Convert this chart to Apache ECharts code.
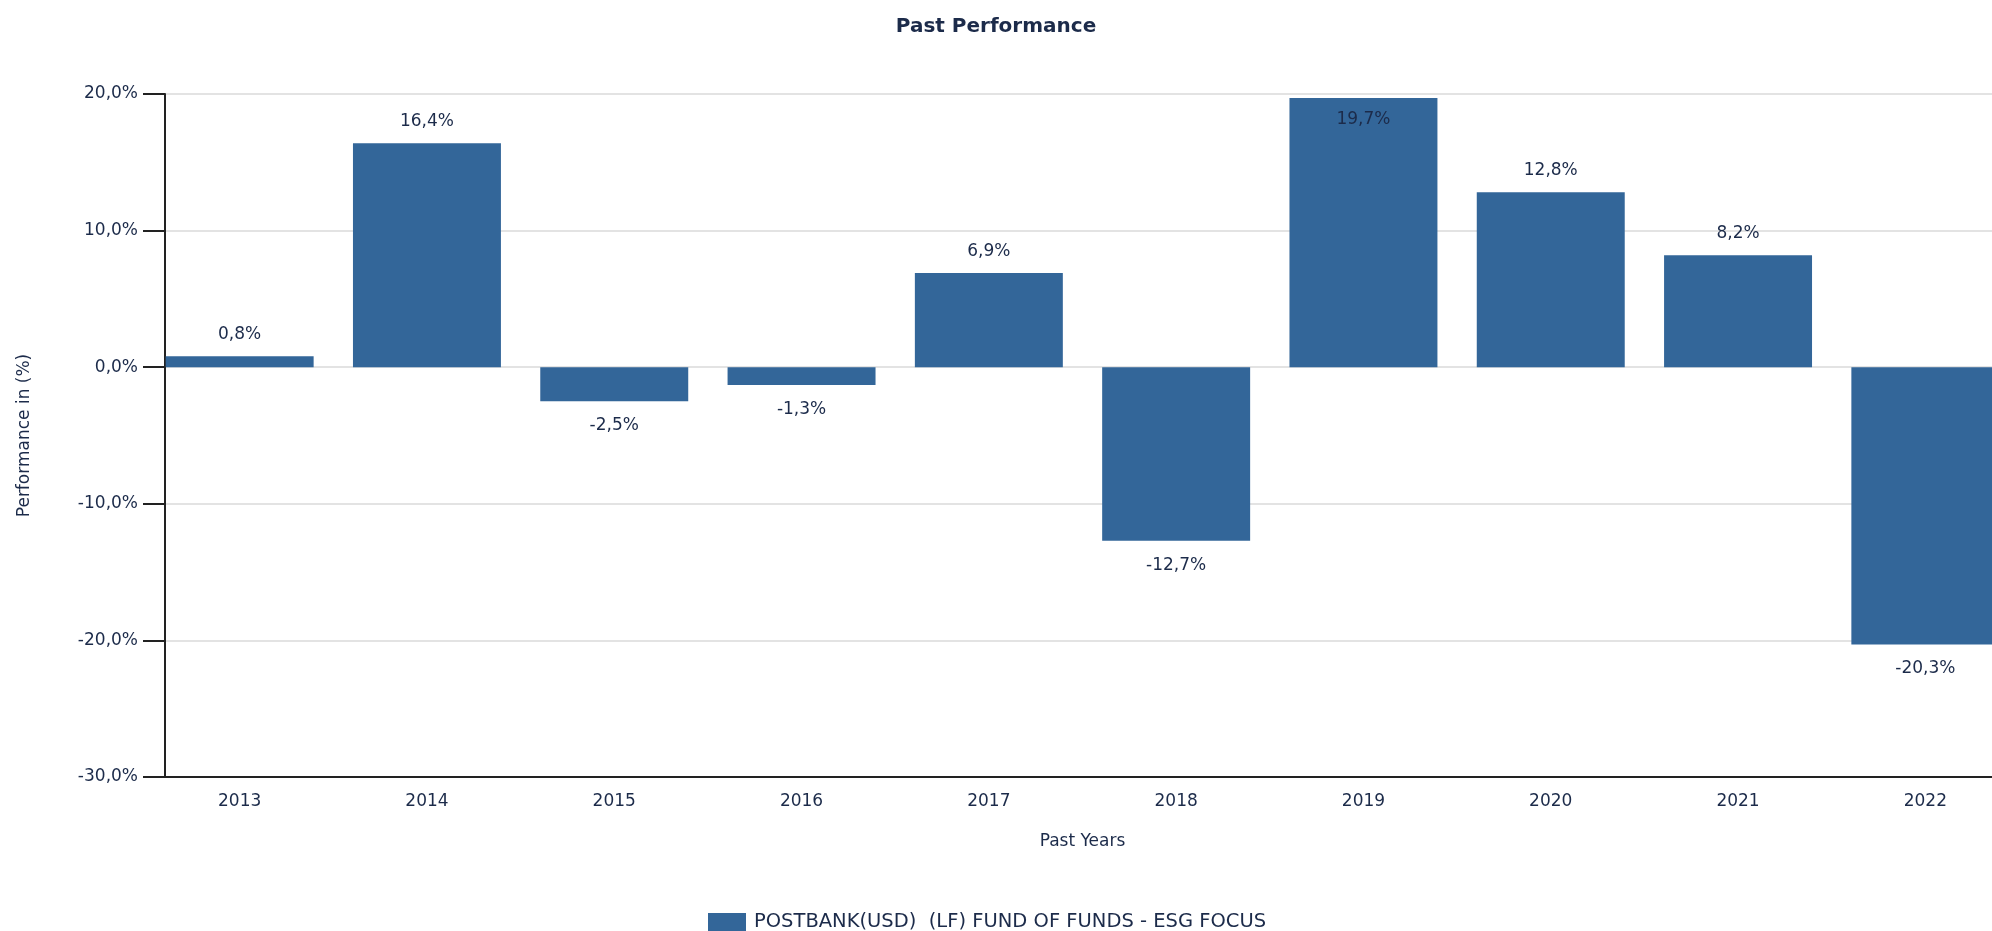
<!DOCTYPE html>
<html>
<head>
<meta charset="utf-8">
<title>Past Performance</title>
<script src="https://cdn.jsdelivr.net/npm/echarts@6/dist/echarts.min.js"></script>
<style>
  html, body { margin: 0; padding: 0; background: #fff; }
  #chart { width: 1992px; height: 931px; }
</style>
</head>
<body>
<div id="chart"></div>
<script>
// chart data
const years = ['2013', '2014', '2015', '2016', '2017', '2018', '2019', '2020', '2021', '2022'];
const performance = [0.8, 16.4, -2.5, -1.3, 6.9, -12.7, 19.7, 12.8, 8.2, -20.3];
const seriesName = 'POSTBANK(USD)  (LF) FUND OF FUNDS - ESG FOCUS';
const yMin = -30, yMax = 20, yStep = 10;

const textColor = '#1c2b4a';
const barColor = '#336699';
const fontName = '"DejaVu Sans", sans-serif';

// german style: comma as decimal mark
function pct(v) {
  return v.toFixed(1).replace('.', ',') + '%';
}

// labels go under negative bars, and inside when there is no room above
const barData = performance.map(v => ({
  value: v,
  label: v < 0
    ? { position: 'bottom', distance: 16 }
    : { position: yMax - v < 3 ? 'insideTop' : 'top' }
}));

var chart = echarts.init(document.getElementById('chart'));
chart.setOption({
  animation: false,
  backgroundColor: '#ffffff',
  textStyle: { fontFamily: fontName, color: textColor },
  title: {
    text: 'Past Performance',
    left: 'center',
    top: 12,
    textStyle: { fontSize: 20, fontWeight: 'bold', color: textColor, fontFamily: fontName }
  },
  legend: {
    top: 907,
    left: 703,
    icon: 'rect',
    itemWidth: 38,
    itemHeight: 18,
    textStyle: { fontSize: 19.5, color: textColor, fontFamily: fontName, padding: [0, 0, 0, 3] },
    data: [seriesName]
  },
  // plot runs past the right edge, like the original
  grid: { left: 146, width: 1873, top: 94, bottom: 154, containLabel: false, outerBoundsMode: 'none' },
  xAxis: {
    type: 'category',
    data: years,
    name: 'Past Years',
    nameLocation: 'middle',
    nameGap: 56,
    nameTextStyle: { fontSize: 17, color: textColor, fontFamily: fontName },
    axisLine: { onZero: false, lineStyle: { color: '#222', width: 2 } },
    axisTick: { alignWithLabel: true, length: 11, lineStyle: { color: '#222', width: 2 } },
    axisLabel: { fontSize: 17, color: textColor, fontFamily: fontName, margin: 16 },
    splitLine: { show: false }
  },
  yAxis: {
    type: 'value',
    min: yMin,
    max: yMax,
    interval: yStep,
    offset: -19,
    name: 'Performance in (%)',
    nameLocation: 'middle',
    nameGap: 132,
    nameTextStyle: { fontSize: 17, color: textColor, fontFamily: fontName },
    axisLine: { show: true, lineStyle: { color: '#222', width: 2 } },
    axisTick: { show: true, length: 22, lineStyle: { color: '#222', width: 2 } },
    axisLabel: { fontSize: 17, color: textColor, fontFamily: fontName, margin: 27, formatter: v => pct(v) },
    splitLine: { lineStyle: { color: '#e3e3e3', width: 2 } }
  },
  series: [{
    name: seriesName,
    type: 'bar',
    data: barData,
    barCategoryGap: '21%',
    itemStyle: { color: barColor },
    label: {
      show: true,
      distance: 13,
      fontSize: 17,
      color: textColor,
      fontFamily: fontName,
      formatter: p => pct(p.value)
    }
  }]
});
</script>
</body>
</html>
